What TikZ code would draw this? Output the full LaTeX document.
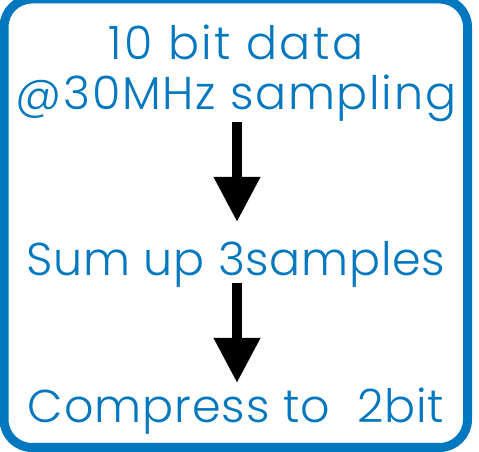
\documentclass[tikz,border=0pt]{standalone}
\usepackage{fontspec}
\setmainfont{Poppins Light}
\usetikzlibrary{arrows.meta}
\definecolor{boxblue}{RGB}{0,119,190}
\tikzset{
  lbl/.style={text=boxblue, font=\fontsize{46}{46}\selectfont, inner sep=0pt, anchor=base},
  flow/.style={line width=10pt, -{Triangle[width=44pt,length=45pt]}, black},
  frame/.style={draw=boxblue, line width=9pt, rounded corners=28pt}
}
\begin{document}
\begin{tikzpicture}[x=1pt,y=1pt]
\useasboundingbox (0,0) rectangle (479,452);
\draw[frame] (4,453) rectangle (467.5,4.5);
\node[lbl] (t1) at (236,392) {\addfontfeatures{LetterSpace=5.5}10 bit data};
\node[lbl] (t2) at (236,342) {\addfontfeatures{LetterSpace=3.7}@30MHz sampling};
\node[lbl] (t3) at (236,176) {\addfontfeatures{LetterSpace=1.6}Sum up 3samples};
\node[lbl] (t4) at (236,29) {\addfontfeatures{LetterSpace=2}Compress to\ \ 2bit};
\coordinate (a1s) at (237,330);
\coordinate (a1e) at (237,230);
\coordinate (a2s) at (237,169);
\coordinate (a2e) at (237,69);
\draw[flow] (a1s) -- (a1e);
\draw[flow] (a2s) -- (a2e);
\end{tikzpicture}
\end{document}
